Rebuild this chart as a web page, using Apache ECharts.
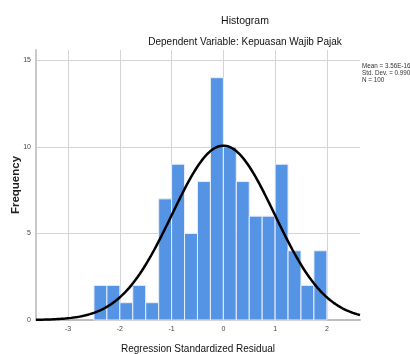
<!DOCTYPE html>
<html>
<head>
<meta charset="utf-8">
<script src="https://cdn.jsdelivr.net/npm/echarts@6/dist/echarts.min.js"></script>
<style>
html,body{margin:0;padding:0;background:#fff;}
#chart{width:410px;height:354px;}
</style>
</head>
<body>
<div id="chart"></div>
<script>
// Histogram bins (left edges), bin width and counts
const binStarts = [-2.5,-2.25,-2.0,-1.75,-1.5,-1.25,-1.0,-0.75,-0.5,-0.25,0.0,0.25,0.5,0.75,1.0,1.25,1.5,1.75];
const binWidth = 0.25;
const counts = [2,2,1,2,1,7,9,5,8,14,10,8,6,6,9,4,2,4];
// Summary statistics shown on the chart
const mean = 3.56e-16;
const stdDev = 0.990;
const nObs = 100;
const statLines = ['Mean = 3.56E-16', 'Std. Dev. = 0.990', 'N = 100'];
const xRange = [-3.62, 2.64];
const yRange = [0, 15.6];

const barData = binStarts.map((s, i) => [s, s + binWidth, counts[i]]);
// Fitted normal curve (from mean, std. dev. and N shown in the legend)
const curve = [];
for (let k = 0; k <= 313; k++) {
  const x = xRange[0] + (xRange[1] - xRange[0]) * k / 313;
  const z = (x - mean) / stdDev;
  curve.push([x, nObs * binWidth / (stdDev * Math.sqrt(2 * Math.PI)) * Math.exp(-z * z / 2)]);
}

const chart = echarts.init(document.getElementById('chart'), null, {renderer: 'canvas'});
const font = '"Liberation Sans", Arial, sans-serif';
chart.setOption({
  animation: false,
  backgroundColor: '#fff',
  textStyle: {fontFamily: font},
  title: [
    {text: 'Histogram', left: 240, top: 11, textAlign: 'center',
     textStyle: {fontSize: 10.5, fontWeight: 'normal', color: '#111', fontFamily: font}},
    {text: 'Dependent Variable: Kepuasan Wajib Pajak', left: 240, top: 32, textAlign: 'center',
     textStyle: {fontSize: 10, fontWeight: 'normal', color: '#111', fontFamily: font}}
  ],
  graphic: [{
    type: 'text', left: 362, top: 63,
    style: {text: statLines.join('\n'), font: '6.3px "Liberation Sans", Arial, sans-serif', fill: '#333', lineHeight: 7}
  }],
  grid: {left: 36, right: 50, top: 50, bottom: 34, outerBoundsMode: 'none', containLabel: false},
  xAxis: {
    type: 'value', min: xRange[0], max: xRange[1], splitNumber: 6, minInterval: 1, maxInterval: 1,
    name: 'Regression Standardized Residual', nameLocation: 'middle', nameGap: 24,
    nameTextStyle: {fontSize: 10, color: '#111', fontFamily: font},
    axisLine: {show: true, onZero: false, lineStyle: {color: '#bdbdbd', width: 2}},
    axisTick: {show: false},
    axisLabel: {fontSize: 7, color: '#444', margin: 6, showMinLabel: false, showMaxLabel: false,
      formatter: v => Math.abs(v - Math.round(v)) < 1e-6 ? String(Math.round(v)) : ''},
    splitLine: {show: true, showMinLine: false, showMaxLine: false, lineStyle: {color: '#d4d4d4', width: 1}}
  },
  yAxis: {
    type: 'value', min: yRange[0], max: yRange[1], interval: 5,
    name: 'Frequency', nameLocation: 'middle', nameGap: 14, nameRotate: 90, nameMoveOverlap: false,
    nameTextStyle: {fontSize: 11.5, fontWeight: 'bold', color: '#222', fontFamily: font},
    axisLine: {show: true, onZero: false, lineStyle: {color: '#c8c8c8', width: 2}},
    axisTick: {show: false},
    axisLabel: {fontSize: 7, color: '#444', margin: 5, showMaxLabel: false,
      formatter: v => (v % 5 === 0 ? String(v) : '')},
    splitLine: {show: true, showMinLine: false, showMaxLine: false, lineStyle: {color: '#d4d4d4', width: 1}}
  },
  series: [
    {
      type: 'custom',
      data: barData,
      encode: {x: [0, 1], y: 2},
      renderItem: function (params, api) {
        const x0 = api.value(0), x1 = api.value(1), y = api.value(2);
        const p0 = api.coord([x0, y]);
        const p1 = api.coord([x1, 0]);
        return {
          type: 'rect',
          shape: {x: p0[0], y: p0[1], width: p1[0] - p0[0], height: p1[1] - p0[1]},
          style: {fill: '#5594e4', stroke: '#e8eef8', lineWidth: 1}
        };
      },
      z: 2
    },
    {
      type: 'line',
      data: curve,
      showSymbol: false,
      symbol: 'none',
      lineStyle: {color: '#000', width: 2.5},
      z: 3
    }
  ]
});
</script>
</body>
</html>
